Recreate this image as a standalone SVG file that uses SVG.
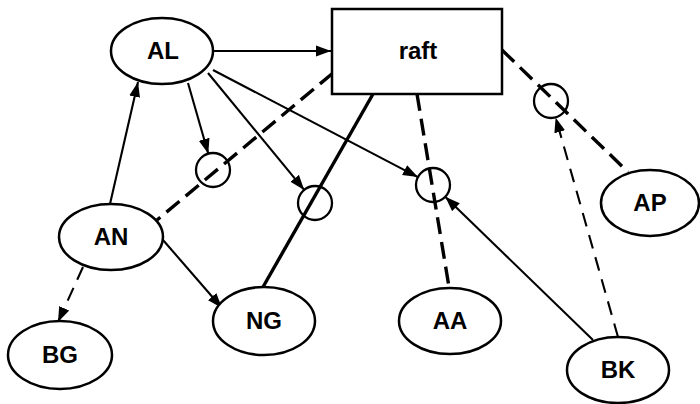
<svg xmlns="http://www.w3.org/2000/svg" width="700" height="404" viewBox="0 0 700 404">
<style>
.node{fill:#fff;stroke:#000;stroke-width:2.5}
.lbl{font-family:"Liberation Sans",Arial,sans-serif;font-weight:bold;font-size:24px;text-anchor:middle;dominant-baseline:central;fill:#000}
.hub{fill:none;stroke:#000;stroke-width:2.3}
.e{fill:none;stroke:#000;stroke-width:2.1}
.thick{stroke-width:3.4}
.dash{stroke-dasharray:17 8}
.dash2{stroke-dasharray:14 9}
</style>
<defs>
<marker id="arr" markerUnits="userSpaceOnUse" markerWidth="16" markerHeight="12" refX="15" refY="5.5" orient="auto" viewBox="0 0 16 11">
<path d="M0,0 L15,5.5 L0,11 z" fill="#000" stroke="none"/>
</marker>
</defs>
<rect width="700" height="404" fill="#fff"/>
<g id="connectors">
<line class="e" x1="214" y1="51" x2="331" y2="51" marker-end="url(#arr)"/>
<line class="e" x1="188" y1="83" x2="208.3" y2="153.7" marker-end="url(#arr)"/>
<line class="e" x1="208" y1="73" x2="304.2" y2="189.9" marker-end="url(#arr)"/>
<line class="e" x1="213" y1="70" x2="417.9" y2="177.1" marker-end="url(#arr)"/>
<line class="e" x1="110" y1="204" x2="138" y2="82" marker-end="url(#arr)"/>
<line class="e" x1="163" y1="240" x2="222" y2="308" marker-end="url(#arr)"/>
<line class="e dash2" x1="83" y1="267" x2="58" y2="322" marker-end="url(#arr)"/>
<line class="e" x1="593" y1="340" x2="445.2" y2="196.8" marker-end="url(#arr)"/>
<line class="e dash2" x1="618" y1="337" x2="555.6" y2="117.4" marker-end="url(#arr)"/>
<line class="e thick dash" x1="333" y1="73" x2="157" y2="220"/>
<line class="e thick" x1="373" y1="94" x2="263" y2="287"/>
<line class="e thick dash" x1="417" y1="94" x2="449" y2="287"/>
<line class="e thick dash" x1="502" y1="50" x2="628" y2="172"/>
</g>
<g id="hub1"><circle class="hub" cx="213" cy="170" r="17"/></g>
<g id="hub2"><circle class="hub" cx="315" cy="203" r="17"/></g>
<g id="hub3"><circle class="hub" cx="433" cy="185" r="17"/></g>
<g id="hub4"><circle class="hub" cx="551" cy="101" r="17"/></g>
<g id="raft"><rect class="node" x="332" y="9" width="170" height="85"/><text class="lbl" x="418" y="50">raft</text></g>
<g id="AL"><ellipse class="node" cx="162" cy="51" rx="51" ry="33"/><text class="lbl" x="163" y="50">AL</text></g>
<g id="AN"><ellipse class="node" cx="111" cy="237" rx="52" ry="33"/><text class="lbl" x="111" y="236">AN</text></g>
<g id="NG"><ellipse class="node" cx="264" cy="321" rx="51" ry="34"/><text class="lbl" x="264" y="320">NG</text></g>
<g id="BG"><ellipse class="node" cx="60" cy="355" rx="52" ry="34"/><text class="lbl" x="60" y="354">BG</text></g>
<g id="AA"><ellipse class="node" cx="450" cy="321" rx="51" ry="33"/><text class="lbl" x="450" y="320">AA</text></g>
<g id="AP"><ellipse class="node" cx="650" cy="203" rx="49" ry="33"/><text class="lbl" x="650" y="202">AP</text></g>
<g id="BK"><ellipse class="node" cx="618" cy="370" rx="51" ry="33"/><text class="lbl" x="618" y="369">BK</text></g>
</svg>
